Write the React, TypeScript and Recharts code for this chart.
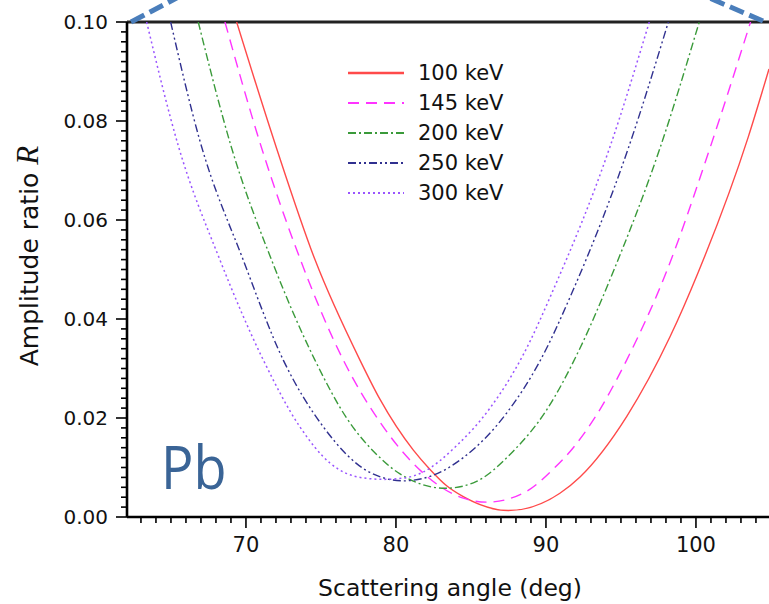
import React from 'react';
import { LineChart, Line, XAxis, YAxis, ReferenceLine, Legend } from 'recharts';

// ---- data ----
const seriesNames = ['100 keV', '145 keV', '200 keV', '250 keV', '300 keV'];

const angles100 = [69.38, 72.04, 74.6, 77.6, 78.93, 81.16, 82.27, 83.38, 84.49, 87.49, 90.93, 92.27, 95.38, 98.27, 100.16, 103.49, 104.87];
const ratios100 = [0.1, 0.0745, 0.052, 0.0317, 0.0238, 0.0135, 0.0096, 0.0063, 0.0041, 0.0013, 0.0048, 0.0081, 0.0203, 0.0364, 0.0495, 0.0768, 0.0905];

const angles145 = [68.6, 71.05, 73.64, 76.49, 78.93, 81.16, 84.49, 86.1, 88.71, 90.49, 91.82, 93.16, 95.38, 98.04, 100.93, 103.64];
const ratios145 = [0.1, 0.0745, 0.0519, 0.0317, 0.0192, 0.0108, 0.0038, 0.003, 0.0052, 0.0097, 0.014, 0.0196, 0.0317, 0.0496, 0.0745, 0.1];

const angles200 = [66.82, 69.05, 71.71, 74.6, 76.71, 78.93, 80.27, 83.3, 85.16, 87.82, 90.04, 92.27, 94.49, 97.6, 100.22];
const ratios200 = [0.1, 0.0745, 0.0519, 0.0317, 0.02, 0.012, 0.0087, 0.0058, 0.0069, 0.0133, 0.0216, 0.0341, 0.0496, 0.0745, 0.1];

const angles250 = [64.98, 66.93, 69.82, 72.49, 75.16, 78.27, 80.49, 82.27, 84.49, 87.38, 89.6, 91.82, 95.49, 98.16];
const ratios250 = [0.1, 0.076, 0.0519, 0.0317, 0.0182, 0.009, 0.0073, 0.0082, 0.012, 0.021, 0.0315, 0.0459, 0.0745, 0.1];

const angles300 = [63.38, 65.49, 68.27, 71.16, 73.6, 75.6, 77.8, 79.2, 80.6, 81.82, 84.04, 86.27, 88.49, 90.49, 94.27, 96.89];
const ratios300 = [0.1, 0.075, 0.0519, 0.0317, 0.0182, 0.0109, 0.0079, 0.0076, 0.0079, 0.0091, 0.0144, 0.022, 0.0328, 0.0459, 0.0748, 0.1];

const xMajorTicks = [70, 80, 90, 100];
const yMajorTicks = [0, 0.02, 0.04, 0.06, 0.08, 0.1];
const xMinorTicks = Array.from({ length: 42 }, (_, i) => 63 + i);
const yMinorTicks = Array.from({ length: 51 }, (_, i) => Number((i * 0.002).toFixed(3)));

const build = (xs: number[], ys: number[]) => xs.map((x, i) => ({ angle: x, R: ys[i] }));
const seriesData = [
  build(angles100, ratios100),
  build(angles145, ratios145),
  build(angles200, ratios200),
  build(angles250, ratios250),
  build(angles300, ratios300),
];

// ---- styles ----
const colors = ['#ff4a4a', '#ff33ff', '#3a9a3a', '#30308f', '#9a55ff'];
const dashes = ['', '11 7', '8 3 2 3', '8 3 2 3 2 3', '2 3'];
const widths = [1.4, 1.4, 1.4, 1.4, 1.5];

const FONT = '"DejaVu Sans", "Liberation Sans", Arial, sans-serif';

const XTick = (props: any) => {
  const { x, y, payload } = props;
  const v = payload.value;
  const major = xMajorTicks.includes(v);
  return (
    <g>
      <line x1={x} x2={x} y1={y} y2={y + (major ? 11 : 6)} stroke="#000" strokeWidth={1.6} />
      {major && (
        <text x={x} y={y + 35} textAnchor="middle" fontSize={21} fontFamily={FONT} fill="#111">
          {v}
        </text>
      )}
    </g>
  );
};

const YTick = (props: any) => {
  const { x, y, payload } = props;
  const v = payload.value;
  const major = yMajorTicks.some((t) => Math.abs(t - v) < 1e-6);
  return (
    <g>
      <line x1={x - (major ? 11 : 6)} x2={x} y1={y} y2={y} stroke="#000" strokeWidth={1.6} />
      {major && (
        <text x={x - 19} y={y + 7} textAnchor="end" fontSize={20} fontFamily={FONT} fill="#111">
          {v.toFixed(2)}
        </text>
      )}
    </g>
  );
};

const renderLegend = () => (
  <div style={{ fontFamily: FONT, fontSize: 21, color: '#111' }}>
    {seriesNames.map((name, i) => (
      <div key={name} style={{ display: 'flex', alignItems: 'center', height: 30 }}>
        <svg width={56} height={10}>
          <line x1={0} x2={56} y1={5} y2={5} stroke={colors[i]} strokeWidth={i === 0 ? 2.5 : 1.8} strokeDasharray={dashes[i]} />
        </svg>
        <span style={{ marginLeft: 14 }}>{name}</span>
      </div>
    ))}
  </div>
);

export default function App() {
  return (
    <div style={{ position: 'absolute', left: 0, top: 0, width: 769, height: 604, overflow: 'hidden', background: '#fff' }}>
      <LineChart width={769} height={604} margin={{ top: 22, right: 0, left: 0, bottom: 0 }}>
        <XAxis
          type="number"
          dataKey="angle"
          domain={[62.07, 104.87]}
          allowDataOverflow
          ticks={xMinorTicks}
          interval={0}
          tickSize={0}
          tickMargin={0}
          tick={<XTick />}
          axisLine={{ stroke: '#000', strokeWidth: 2.6 }}
          height={87}
          label={{
            content: () => (
              <text x={450} y={596} textAnchor="middle" fontSize={23.5} fontFamily={FONT} fill="#111">
                Scattering angle (deg)
              </text>
            ),
          }}
        />
        <YAxis
          type="number"
          dataKey="R"
          domain={[0, 0.1]}
          allowDataOverflow
          ticks={yMinorTicks}
          interval={0}
          tickSize={0}
          tickMargin={0}
          tick={<YTick />}
          axisLine={{ stroke: '#000', strokeWidth: 2.6 }}
          width={127}
          label={{
            content: () => (
              <text
                x={38}
                y={256}
                transform="rotate(-90, 38, 256)"
                textAnchor="middle"
                fontSize={25}
                fontFamily={FONT}
                fill="#111"
              >
                Amplitude ratio{' '}
                <tspan fontFamily='"Liberation Serif", "Times New Roman", serif' fontStyle="italic" fontSize={31}>
                  R
                </tspan>
              </text>
            ),
          }}
        />
        <ReferenceLine y={0.1} stroke="#222" strokeWidth={3} />
        <ReferenceLine
          segment={[{ x: 62.34, y: 0.1 }, { x: 66.6, y: 0.1068 }]}
          stroke="#4a7ebb"
          strokeWidth={5}
          strokeDasharray="15 6"
          ifOverflow="visible"
        />
        <ReferenceLine
          segment={[{ x: 104.47, y: 0.1002 }, { x: 99.4, y: 0.1068 }]}
          stroke="#4a7ebb"
          strokeWidth={5}
          strokeDasharray="15 6"
          ifOverflow="visible"
        />
        {seriesData.map((d, i) => (
          <Line
            key={seriesNames[i]}
            data={d}
            dataKey="R"
            name={seriesNames[i]}
            type="monotone"
            stroke={colors[i]}
            strokeWidth={widths[i]}
            strokeDasharray={dashes[i] || undefined}
            dot={false}
            activeDot={false}
            isAnimationActive={false}
          />
        ))}
        <Legend
          layout="vertical"
          align="center"
          verticalAlign="middle"
          content={renderLegend}
          wrapperStyle={{ position: 'absolute', left: 348, top: 58, width: 220, height: 150 }}
        />
      </LineChart>
      <div
        style={{
          position: 'absolute',
          left: 161,
          top: 426,
          fontFamily: '"Open Sans", "Noto Sans", sans-serif',
          fontSize: 60,
          lineHeight: '80px',
          color: '#3a6496',
          transform: 'scaleX(0.9)',
          transformOrigin: 'left top',
        }}
      >
        Pb
      </div>
    </div>
  );
}
